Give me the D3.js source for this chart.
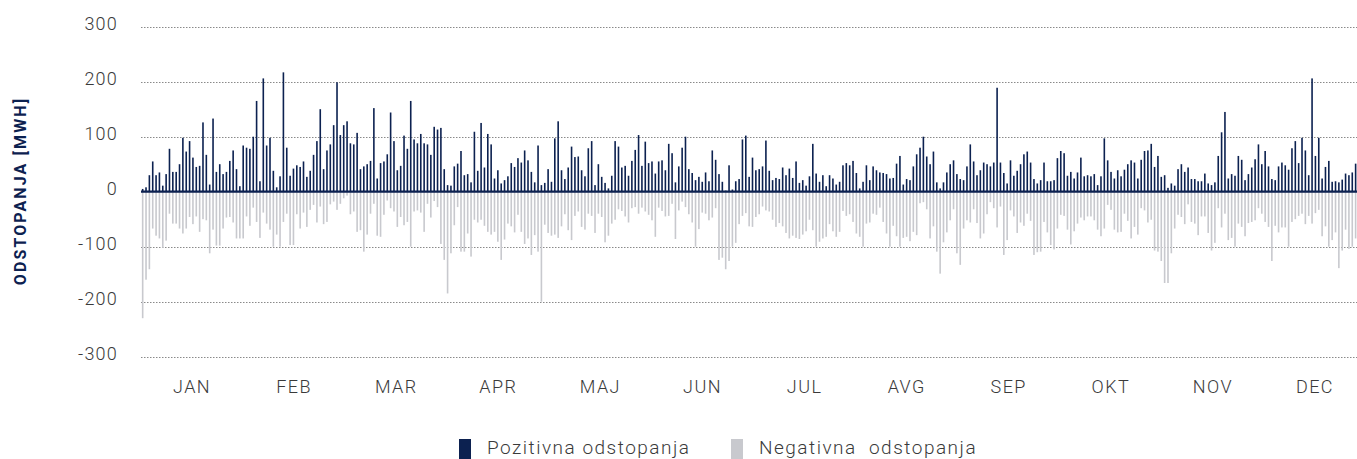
<!DOCTYPE html>
<html>
<head>
<meta charset="utf-8">
<script src="https://cdn.jsdelivr.net/npm/d3@7"></script>
<style>
  html, body { margin: 0; padding: 0; background: #ffffff; }
  svg { display: block; }
  text { font-family: Roboto, "Noto Sans", sans-serif; }
</style>
</head>
<body>
<svg id="chart" width="1357" height="459"></svg>
<script>
// Daily balancing deviations (MWh), one value per day from 1 January
const months = ["JAN", "FEB", "MAR", "APR", "MAJ", "JUN", "JUL", "AVG", "SEP", "OKT", "NOV", "DEC"];
const yTicks = [-300, -200, -100, 0, 100, 200, 300];
const dayCount = 365;

const positive = [
  5, 8, 30, 55, 30, 35, 11, 32, 78, 36, 36, 50, 98, 73, 92, 62, 45, 47, 126, 67, 13, 133, 36, 50, 32, 36, 56, 75, 41, 10,
  84, 80, 78, 100, 165, 19, 206, 84, 98, 38, 8, 28, 217, 80, 29, 42, 48, 45, 55, 27, 38, 67, 92, 150, 41, 75, 86, 121, 199, 103,
  121, 128, 88, 86, 107, 41, 46, 50, 56, 152, 24, 52, 55, 68, 144, 92, 39, 47, 102, 78, 165, 95, 88, 105, 88, 86, 67, 118, 113, 116, 41,
  12, 11, 46, 51, 74, 30, 32, 17, 109, 38, 125, 44, 105, 86, 24, 39, 15, 21, 28, 52, 45, 61, 53, 75, 57, 36, 17, 84, 12, 16,
  41, 18, 97, 128, 39, 23, 44, 82, 63, 64, 39, 28, 79, 92, 12, 50, 27, 16, 6, 29, 92, 82, 44, 47, 29, 56, 76, 103, 47, 91, 52,
  55, 33, 55, 57, 39, 87, 70, 17, 46, 80, 100, 41, 34, 21, 27, 18, 35, 19, 75, 58, 32, 18, 2, 48, 4, 19, 23, 95, 102, 27,
  62, 39, 41, 46, 93, 38, 21, 25, 23, 44, 30, 42, 25, 55, 16, 21, 11, 28, 87, 33, 18, 30, 10, 30, 24, 13, 18, 48, 52, 48, 56,
  34, 6, 18, 48, 21, 46, 39, 35, 34, 32, 24, 25, 51, 65, 13, 23, 21, 46, 68, 80, 100, 64, 50, 73, 17, 6, 17, 35, 50, 57,
  32, 23, 21, 46, 86, 55, 30, 39, 53, 50, 46, 53, 189, 53, 34, 15, 57, 29, 38, 50, 68, 73, 53, 23, 15, 21, 53, 19, 19, 21, 61,
  74, 70, 29, 36, 24, 35, 62, 28, 30, 28, 32, 12, 28, 97, 57, 36, 24, 39, 28, 40, 50, 57, 53, 24, 58, 74, 75, 87, 45, 65,
  27, 30, 7, 15, 11, 41, 50, 36, 44, 23, 23, 19, 19, 33, 15, 12, 17, 65, 108, 145, 24, 32, 29, 65, 58, 21, 32, 44, 59, 86, 50,
  74, 46, 23, 21, 46, 53, 48, 40, 79, 92, 52, 98, 75, 30, 206, 65, 98, 24, 45, 56, 18, 19, 17, 22, 33, 30, 35, 51
];

const negative = [
  -230, -160, -141, -67, -80, -85, -102, -89, -40, -58, -58, -67, -76, -67, -46, -59, -45, -73, -50, -52, -112, -69, -98, -98, -67, -47, -46, -56, -85, -85,
  -85, -45, -62, -29, -55, -84, -38, -58, -69, -100, -78, -100, -55, -40, -97, -97, -41, -67, -38, -64, -33, -24, -56, -27, -59, -55, -23, -18, -33, -22,
  -12, -7, -41, -36, -73, -70, -109, -78, -40, -22, -80, -82, -42, -16, -30, -36, -64, -46, -61, -55, -100, -36, -34, -38, -73, -22, -47, -17, -28, -95, -124,
  -185, -112, -61, -28, -109, -109, -76, -118, -51, -56, -51, -62, -73, -78, -73, -91, -124, -87, -58, -63, -74, -42, -73, -95, -85, -115, -79, -109, -200, -60,
  -75, -80, -78, -84, -63, -41, -70, -88, -44, -36, -64, -69, -40, -44, -75, -40, -46, -92, -80, -58, -51, -32, -35, -45, -56, -30, -28, -40, -29, -36, -42,
  -52, -82, -29, -35, -45, -44, -22, -86, -34, -18, -28, -41, -56, -100, -68, -38, -40, -52, -47, -30, -124, -120, -141, -126, -100, -93, -59, -44, -39, -63,
  -64, -46, -41, -27, -34, -36, -51, -64, -57, -63, -75, -85, -80, -84, -86, -78, -72, -51, -70, -100, -91, -85, -82, -59, -72, -82, -73, -35, -44, -41, -55,
  -76, -82, -100, -58, -56, -40, -42, -29, -55, -76, -100, -62, -81, -100, -84, -82, -90, -73, -79, -21, -19, -32, -85, -63, -109, -149, -92, -74, -52, -32,
  -112, -133, -67, -52, -56, -32, -57, -85, -76, -41, -19, -30, -65, -27, -115, -88, -34, -45, -75, -56, -62, -40, -53, -115, -110, -109, -55, -74, -97, -105, -67,
  -42, -44, -69, -96, -72, -58, -47, -52, -45, -45, -52, -69, -81, -67, -24, -33, -69, -74, -73, -40, -53, -85, -64, -78, -30, -34, -56, -51, -107, -109,
  -126, -166, -166, -112, -67, -42, -46, -59, -23, -55, -58, -79, -45, -45, -75, -107, -93, -30, -65, -40, -88, -84, -100, -58, -64, -81, -57, -55, -52, -30, -40,
  -55, -64, -126, -62, -74, -65, -65, -100, -55, -50, -44, -40, -59, -44, -58, -39, -33, -81, -63, -100, -88, -74, -139, -107, -69, -104, -100, -85
];

const NAVY = "#0c2150";
const GREY = "#c8c9ce";
const TEXT = "#3a3a3a";

const svg = d3.select("#chart");

const plotLeft = 141;
const plotRight = 1364;

const x = d3.scaleLinear().domain([0, dayCount]).range([plotLeft, plotRight]);
const xMonth = d3.scaleBand().domain(months).range([plotLeft, plotRight + 2]);
const y = d3.scaleLinear().domain([-300, 300]).range([356.7, 26.7]);

// dotted gridlines
svg.append("g")
  .selectAll("line")
  .data(yTicks.filter(t => t !== 0))
  .join("line")
  .attr("x1", plotLeft)
  .attr("x2", 1357)
  .attr("y1", d => Math.round(y(d)) + 0.5)
  .attr("y2", d => Math.round(y(d)) + 0.5)
  .attr("stroke", "#8a8a8a")
  .attr("stroke-width", 1)
  .attr("stroke-dasharray", "1.5,1.5");

// y tick labels
const yAxis = d3.axisLeft(y).tickValues(yTicks).tickSize(0).tickPadding(0)
  .tickFormat(d => String(d));
const yg = svg.append("g").attr("transform", "translate(118,-3)").call(yAxis);
yg.select(".domain").remove();
yg.selectAll("text")
  .attr("fill", TEXT)
  .style("font-size", "18px")
  .style("font-weight", 300)
  .style("letter-spacing", "1.2px");

// negative deviations
const bw = 1.6;
svg.append("g")
  .selectAll("rect")
  .data(negative)
  .join("rect")
  .attr("x", (d, i) => x(i + 0.5) - bw / 2)
  .attr("y", y(0))
  .attr("width", bw)
  .attr("height", d => y(d) - y(0))
  .attr("fill", GREY);

// positive deviations
svg.append("g")
  .selectAll("rect")
  .data(positive)
  .join("rect")
  .attr("x", (d, i) => x(i + 0.5) - bw / 2)
  .attr("y", d => y(d))
  .attr("width", bw)
  .attr("height", d => y(0) - y(d))
  .attr("fill", NAVY);

// zero baseline
svg.append("line")
  .attr("x1", plotLeft)
  .attr("x2", 1357)
  .attr("y1", y(0))
  .attr("y2", y(0))
  .attr("stroke", NAVY)
  .attr("stroke-width", 2.2);

// month labels
const xAxis = d3.axisBottom(xMonth).tickSize(0).tickPadding(0);
const xg = svg.append("g").attr("transform", "translate(0,393)").call(xAxis);
xg.select(".domain").remove();
xg.selectAll("text")
  .attr("fill", TEXT)
  .attr("dy", 0)
  .style("font-size", "18px")
  .style("font-weight", 300)
  .style("letter-spacing", "1.4px");

// y-axis title
svg.append("text")
  .attr("transform", "translate(26,191) rotate(-90)")
  .attr("text-anchor", "middle")
  .attr("fill", NAVY)
  .style("font-size", "16px")
  .style("font-weight", 700)
  .style("letter-spacing", "2.1px")
  .text("ODSTOPANJA [MWH]");

// legend
const legendItems = [
  { label: "Pozitivna odstopanja", color: NAVY, x: 459 },
  { label: "Negativna  odstopanja", color: GREY, x: 731 }
];
const lg = svg.append("g");
legendItems.forEach(item => {
  lg.append("rect")
    .attr("x", item.x)
    .attr("y", 439)
    .attr("width", 12)
    .attr("height", 20)
    .attr("fill", item.color);
  lg.append("text")
    .attr("x", item.x + 28)
    .attr("y", 454)
    .attr("fill", TEXT)
    .style("font-size", "19px")
    .style("font-weight", 300)
    .style("letter-spacing", "1.5px")
    .style("white-space", "pre")
    .text(item.label);
});
</script>
</body>
</html>
